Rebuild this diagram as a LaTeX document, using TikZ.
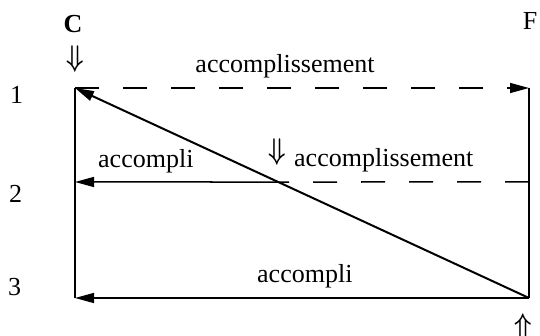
\documentclass[tikz,border=0pt]{standalone}
\usepackage{fontspec}
\setmainfont{Liberation Serif}
\usetikzlibrary{arrows.meta,calc}

\begin{document}
\begin{tikzpicture}[x=1pt,y=-1pt,font=\fontsize{26}{30}\selectfont,
      rail/.style={line width=1.5pt},
      flow/.style={line width=1.5pt,-{Triangle[length=19pt,width=10pt]}},
      plan/.style={line width=1.5pt,dash pattern=on 24pt off 24pt},
      lbl/.style={inner sep=0pt,anchor=base west},
      cue/.style={inner sep=0pt,yscale=1.2,font=\fontsize{30}{30}\selectfont\boldmath}]

    \useasboundingbox (0,0) rectangle (540,336);

    \coordinate (c1) at (75,88);
    \coordinate (c2) at (75,182);
    \coordinate (c3) at (75,298);
    \coordinate (f1) at (529,88);
    \coordinate (f2) at (529,182);
    \coordinate (f3) at (529,298);
    \coordinate (mid) at ($(f3)!{116/210}!(c1)$);

    \draw[rail] (c1) -- (c3);
    \draw[rail] (f1) -- (f3);

    \draw[flow,plan] (c1) -- (f1);
    \draw[plan] (f2) -- (mid);
    \draw[flow] (mid) -- (c2);
    \draw[flow] (f3) -- (c3);
    \draw[flow,line width=2pt] (f3) -- (c1);

    \node[inner sep=0pt,anchor=base] (cName) at (73,33) {\textbf{C}};
    \node[cue] (cIn) at (75,59) {$\Downarrow$};
    \node[inner sep=0pt,anchor=base] (fName) at (530,30) {F};
    \node[cue] (fIn) at (523,327) {$\Uparrow$};

    \node[lbl] (row1) at (10,104) {1};
    \node[lbl] (row2) at (9,203) {2};
    \node[lbl] (row3) at (8,295) {3};

    \node[inner sep=0pt,anchor=base] (topLbl) at (285,73) {accomplissement};
    \node[lbl] (leftLbl) at (98,168) {accompli};
    \node[cue] (midIn) at (277,152) {$\Downarrow$};
    \node[lbl] (rightLbl) at (294,167) {accomplissement};
    \node[lbl] (botLbl) at (257,283) {accompli};
  \end{tikzpicture}
\end{document}
